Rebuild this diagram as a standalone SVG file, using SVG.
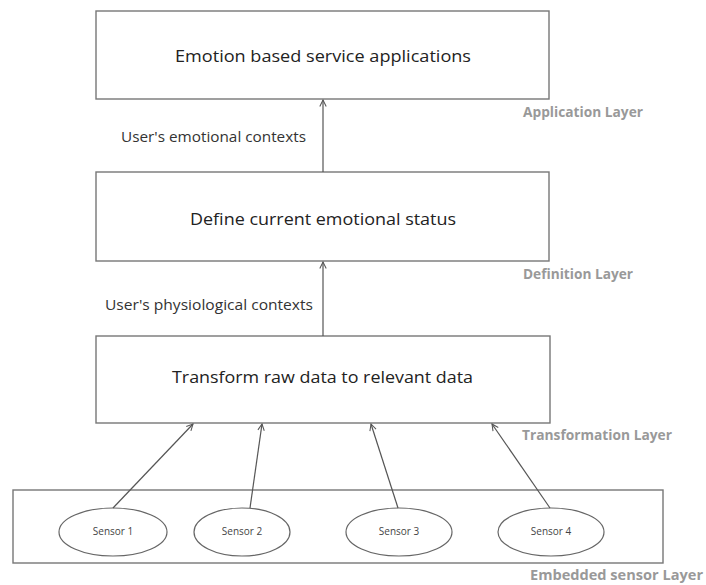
<svg xmlns="http://www.w3.org/2000/svg" width="706" height="585" viewBox="0 0 706 585">
<style>
.box{fill:#fff;stroke:#777;stroke-width:1.4}
.ell{fill:#fff;stroke:#666;stroke-width:1.2}
.main{font-family:"Open Sans","Noto Sans",sans-serif;font-size:17px;fill:#222}
.lbl{font-family:"Open Sans","Noto Sans",sans-serif;font-size:14.5px;fill:#333}
.layer{font-family:"Open Sans","Noto Sans",sans-serif;font-size:13.5px;font-weight:bold;fill:#999}
.sen{font-family:"Open Sans","Noto Sans",sans-serif;font-size:10px;fill:#444;text-anchor:middle}
.con{stroke:#555;stroke-width:1.2;fill:none;marker-end:url(#arr)}
</style>
<defs>
<marker id="arr" viewBox="0 0 10 10" refX="9" refY="5" markerWidth="8" markerHeight="8" orient="auto" markerUnits="userSpaceOnUse">
<path d="M1,1 L9,5 L1,9" fill="none" stroke="#555" stroke-width="1.3"/>
</marker>
</defs>
<rect width="706" height="585" fill="#fff"/>
<g id="app">
<rect class="box" x="96" y="11" width="453" height="88"/>
<text class="main" x="175" y="62" textLength="296" lengthAdjust="spacingAndGlyphs">Emotion based service applications</text>
</g>
<g id="def">
<rect class="box" x="96" y="172" width="453" height="89"/>
<text class="main" x="190" y="225" textLength="266" lengthAdjust="spacingAndGlyphs">Define current emotional status</text>
</g>
<g id="trans">
<rect class="box" x="96" y="336" width="454" height="87"/>
<text class="main" x="172" y="383" textLength="301" lengthAdjust="spacingAndGlyphs">Transform raw data to relevant data</text>
</g>
<g id="sensors">
<rect class="box" x="13" y="490" width="650" height="73"/>
</g>
<g id="s1"><ellipse class="ell" cx="113" cy="532" rx="54" ry="24"/><text class="sen" x="113" y="535">Sensor 1</text></g>
<g id="s2"><ellipse class="ell" cx="242" cy="532" rx="48" ry="24"/><text class="sen" x="242" y="535">Sensor 2</text></g>
<g id="s3"><ellipse class="ell" cx="399" cy="532" rx="53" ry="24"/><text class="sen" x="399" y="535">Sensor 3</text></g>
<g id="s4"><ellipse class="ell" cx="551" cy="532" rx="53" ry="24"/><text class="sen" x="551" y="535">Sensor 4</text></g>
<g id="connectors">
<line class="con" x1="323" y1="172" x2="323" y2="100"/>
<line class="con" x1="323" y1="336" x2="323" y2="262"/>
<line class="con" x1="113" y1="508" x2="193" y2="424"/>
<line class="con" x1="250" y1="508" x2="262" y2="424"/>
<line class="con" x1="398" y1="508" x2="371" y2="424"/>
<line class="con" x1="550" y1="508" x2="492" y2="424"/>
</g>
<g id="labels">
<text class="lbl" x="121" y="142" textLength="185" lengthAdjust="spacingAndGlyphs">User's emotional  contexts</text>
<text class="lbl" x="105" y="310" textLength="208" lengthAdjust="spacingAndGlyphs">User's physiological  contexts</text>
<text class="layer" x="523" y="117" textLength="120" lengthAdjust="spacingAndGlyphs">Application Layer</text>
<text class="layer" x="523" y="279" textLength="110" lengthAdjust="spacingAndGlyphs">Definition Layer</text>
<text class="layer" x="522" y="440" textLength="150" lengthAdjust="spacingAndGlyphs">Transformation Layer</text>
<text class="layer" x="530" y="580" textLength="173" lengthAdjust="spacingAndGlyphs">Embedded sensor Layer</text>
</g>
</svg>
